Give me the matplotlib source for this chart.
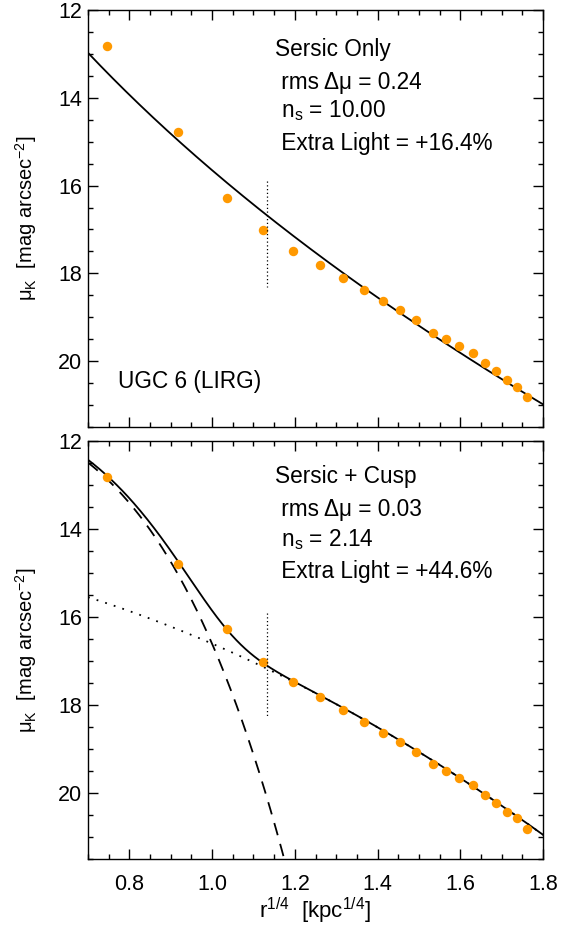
import numpy as np
import matplotlib
matplotlib.use("Agg")
import matplotlib.pyplot as plt
from matplotlib.ticker import MultipleLocator

plt.rcParams["font.family"] = ["Liberation Sans", "DejaVu Sans"]
plt.rcParams["mathtext.fontset"] = "custom"
plt.rcParams["mathtext.rm"] = "Liberation Sans"
plt.rcParams["mathtext.it"] = "Liberation Sans:italic"

# K-band surface brightness profile of UGC 6 (r^(1/4) in kpc^(1/4), mag/arcsec^2)
r14 = [0.746, 0.918, 1.036, 1.123, 1.196, 1.260, 1.316, 1.368, 1.414, 1.455,
       1.494, 1.534, 1.566, 1.598, 1.630, 1.659, 1.686, 1.714, 1.737, 1.762]
mu_k = [12.83, 14.79, 16.28, 17.02, 17.48, 17.81, 18.11, 18.38, 18.63, 18.84,
        19.07, 19.35, 19.50, 19.66, 19.82, 20.04, 20.23, 20.43, 20.58, 20.81]

# fitted components: (mu_e, r_e [kpc], n)
sersic_only = (16.884, 1.813, 10.00)
sersic_outer = (18.725, 4.293, 2.14)
cusp_inner = (13.01, 0.3358, 1.0)

# inner fit boundary marker
r14_break = 1.133
break_span = (15.9, 18.3)

labels_top = ["Sersic Only", " rms \u0394\u03bc = 0.24",
              r" $\mathregular{n_s}$ = 10.00", " Extra Light = +16.4%"]
labels_bot = ["Sersic + Cusp", " rms \u0394\u03bc = 0.03",
              r" $\mathregular{n_s}$ = 2.14", " Extra Light = +44.6%"]
galaxy = "UGC 6 (LIRG)"

ORANGE = "#ff9900"
FS_TXT = 16.3
FS_TICK = 15.5
FS_LAB = 14.5


def sersic(x, mu_e, r_e, n):
    r = x ** 4
    b = 2 * n - 1 / 3 + 0.009876 / n
    return mu_e + 2.5 / np.log(10) * b * ((r / r_e) ** (1 / n) - 1)


def add_mags(m1, m2):
    return -2.5 * np.log10(10 ** (-0.4 * m1) + 10 ** (-0.4 * m2))


def style(ax):
    ax.set_xlim(0.7, 1.8)
    ax.set_ylim(21.5, 12)
    ax.xaxis.set_major_locator(MultipleLocator(0.2))
    ax.xaxis.set_minor_locator(MultipleLocator(0.05))
    ax.yaxis.set_major_locator(MultipleLocator(2))
    ax.yaxis.set_minor_locator(MultipleLocator(0.5))
    ax.tick_params(which="both", direction="in", top=True, right=True,
                   width=1.0, labelsize=FS_TICK)
    ax.tick_params(which="major", length=7)
    ax.tick_params(which="minor", length=3.5)
    ax.tick_params(axis="x", pad=11)
    ax.tick_params(axis="y", pad=4)
    for s in ax.spines.values():
        s.set_linewidth(1.0)
    ax.set_ylabel("\u03bc$_{\\mathregular{K}}$  [mag arcsec$^{\\mathregular{-2}}$]",
                  fontsize=FS_LAB)
    ax.yaxis.set_label_coords(-0.108, 0.5)


fig = plt.figure(figsize=(5.62, 9.25), dpi=100)
ax1 = fig.add_axes([0.1566, 0.5384, 0.8096, 0.4508])
ax2 = fig.add_axes([0.1566, 0.0714, 0.8096, 0.4519])

x = np.linspace(0.7, 1.8, 400)

# top: single Sersic
style(ax1)
ax1.plot(x, sersic(x, *sersic_only), color="black", lw=1.3)
ax1.plot(r14, mu_k, "o", color=ORANGE, ms=6.8, mec="none")
ax1.plot([r14_break, r14_break], break_span, color="black", lw=0.9,
         ls=(0, (1, 2)))
ax1.tick_params(axis="x", labelbottom=False)
for t, yf in zip(labels_top, [0.906, 0.827, 0.758, 0.679]):
    ax1.text(0.411, yf, t, transform=ax1.transAxes, fontsize=FS_TXT,
             va="center", ha="left")
ax1.text(0.066, 0.110, galaxy, transform=ax1.transAxes, fontsize=FS_TXT,
         va="center", ha="left")

# bottom: Sersic + cusp
style(ax2)
m_out = sersic(x, *sersic_outer)
m_cusp = sersic(x, *cusp_inner)
ax2.plot(x, m_out, color="black", lw=1.3, ls=(0, (1, 4)))
ax2.plot(x, m_cusp, color="black", lw=1.3, ls=(0, (7, 5)))
ax2.plot(x, add_mags(m_out, m_cusp), color="black", lw=1.3)
ax2.plot(r14, mu_k, "o", color=ORANGE, ms=6.8, mec="none")
ax2.plot([r14_break, r14_break], break_span, color="black", lw=0.9,
         ls=(0, (1, 2)))
for t, yf in zip(labels_bot, [0.914, 0.835, 0.763, 0.687]):
    ax2.text(0.411, yf, t, transform=ax2.transAxes, fontsize=FS_TXT,
             va="center", ha="left")
ax2.set_xlabel("r$^{\\mathregular{1/4}}$  [kpc$^{\\mathregular{1/4}}$]",
               fontsize=16)
ax2.xaxis.set_label_coords(0.5, -0.089)

fig.savefig("out.png", dpi=100)
